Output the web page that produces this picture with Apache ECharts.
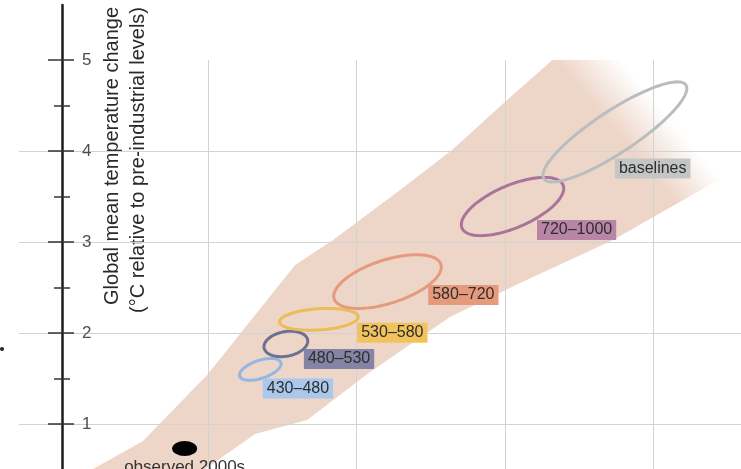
<!DOCTYPE html>
<html>
<head>
<meta charset="utf-8">
<script src="https://cdn.jsdelivr.net/npm/echarts@6/dist/echarts.min.js"></script>
<style>
  html, body { margin: 0; padding: 0; background: #ffffff; }
  #chart { width: 741px; height: 469px; }
</style>
</head>
<body>
<div id="chart"></div>
<script>
// Warming versus cumulative CO2 emissions (GtCO2) for concentration categories (ppm CO2-eq)
const scenarioNames = ['430–480', '480–530', '530–580', '580–720', '720–1000', 'baselines'];
const emissionsLow  = [2420, 2750, 2960, 3690, 5410, 6510];
const emissionsHigh = [2980, 3340, 4020, 5140, 6790, 8450];
const warmingLow    = [1.48, 1.74, 2.03, 2.27, 3.07, 3.66];
const warmingHigh   = [1.72, 2.02, 2.27, 2.86, 3.71, 4.76];
// phase offset of each spread ellipse: smaller values give a thinner, more diagonal ellipse
const spreadPhase   = [1.03, 1.35, 1.35, 1.0, 0.9, 0.52];

const observedPoint = [[1680, 0.73]];
const observedLabel = 'observed 2000s';

// model plume outline: [cumulative emissions, warming]
const plumeUpper = [
  [135, 0.33], [445, 0.505], [1119, 0.813], [1995, 1.549], [3169, 2.747],
  [3681, 3.022], [4584, 3.571], [5285, 4.011], [6027, 4.56], [6607, 4.978],
  [7281, 5.55], [8629, 6.32]
];
const plumeLower = [
  [9977, 4.34], [9438, 3.90], [8804, 3.648], [7456, 3.022], [6202, 2.549],
  [5258, 2.176], [4180, 1.571], [3330, 1.044], [2629, 0.89], [1955, 0.505],
  [1483, 0.275]
];

const yAxisTitle = ['Global mean temperature change', '(°C relative to pre-industrial levels)'];

// styling per category: stroke, label box colour and label offset from ellipse centre (px)
const scenarioStyle = [
  { stroke: '#93b7e0', bg: '#a9c8ec', dx: 2.5,  dy: 9 },
  { stroke: '#6d7092', bg: '#8584a4', dx: 18,   dy: 5 },
  { stroke: '#ebbd58', bg: '#f1c35c', dx: 38.3, dy: 3.5 },
  { stroke: '#e49b7d', bg: '#e69a7c', dx: 40.7, dy: 3.5 },
  { stroke: '#aa7399', bg: '#b985a6', dx: 24.5, dy: 13.5 },
  { stroke: '#babdbe', bg: '#c4c6c6', dx: 0,    dy: 26.5 }
];

const FONT = '"Liberation Sans", Arial, sans-serif';
const gridColor = '#d2d2d2';
const plumeColor = '#edd5c8';

const scenarioRows = scenarioNames.map((_, i) =>
  [emissionsLow[i], emissionsHigh[i], warmingLow[i], warmingHigh[i], spreadPhase[i]]);

function renderPlume(params, api) {
  const outline = plumeUpper.concat(plumeLower).map(p => api.coord(p));
  const fill = new echarts.graphic.LinearGradient(621, 138, 659, 106, [
    { offset: 0, color: plumeColor },
    { offset: 1, color: 'rgba(237,213,200,0)' }
  ], true);
  return { type: 'polygon', shape: { points: outline }, style: { fill: fill } };
}

function renderSpread(params, api) {
  const i = params.dataIndex;
  const x0 = api.value(0), x1 = api.value(1), y0 = api.value(2), y1 = api.value(3), ph = api.value(4);
  const cx = (x0 + x1) / 2, a = (x1 - x0) / 2;
  const cy = (y0 + y1) / 2, b = (y1 - y0) / 2;
  const pts = [];
  const n = 120;
  for (let k = 0; k < n; k++) {
    const t = k / n * Math.PI * 2;
    pts.push(api.coord([cx + a * Math.cos(t), cy + b * Math.cos(t - ph)]));
  }
  const c = api.coord([cx, cy]);
  const st = scenarioStyle[i];
  return {
    type: 'group',
    children: [
      { type: 'polygon', shape: { points: pts },
        style: { fill: 'none', stroke: st.stroke, lineWidth: 3 } },
      { type: 'text', x: c[0] + st.dx, y: c[1] + st.dy, z2: 10,
        style: { text: scenarioNames[i], fill: '#2e2e2e', font: '16px ' + FONT,
                 backgroundColor: st.bg, padding: [2, 4, 2, 4], lineHeight: 16,
                 align: 'left', verticalAlign: 'top' } }
    ]
  };
}

const chart = echarts.init(document.getElementById('chart'), null, { renderer: 'canvas' });

const tickStyle = { color: '#333333', width: 1.5 };

chart.setOption({
  animation: false,
  backgroundColor: '#ffffff',
  grid: [
    { left: 60, right: 0, top: 60, bottom: -46, outerBoundsMode: 'none', containLabel: false },
    { left: 19, right: 0, top: 60, bottom: -46, outerBoundsMode: 'none', containLabel: false },
    { left: 62, right: 0, top: 5,  bottom: -46, outerBoundsMode: 'none', containLabel: false }
  ],
  xAxis: [
    { gridIndex: 0, type: 'value', min: 0, max: 9180, interval: 2000,
      axisLine: { show: false }, axisTick: { show: false }, axisLabel: { show: false },
      splitLine: { show: true, showMinLine: false, showMaxLine: false, lineStyle: { color: gridColor, width: 1 } } },
    { gridIndex: 1, type: 'value', min: 0, max: 1, show: false },
    { gridIndex: 2, type: 'value', min: 0, max: 1, show: false }
  ],
  yAxis: [
    { gridIndex: 0, type: 'value', min: 0, max: 5, interval: 1, show: false },
    { gridIndex: 1, type: 'value', min: 0, max: 5, interval: 1, position: 'left', offset: -43,
      axisLine: { show: false, onZero: false },
      axisTick: { show: true, inside: false, length: 14, lineStyle: tickStyle },
      minorTick: { show: true, splitNumber: 2, length: 8, lineStyle: tickStyle },
      axisLabel: { show: true, inside: true, margin: 20, fontSize: 17, fontFamily: FONT, color: '#4e4e4e' },
      splitLine: { show: true, showMinLine: false, showMaxLine: false, lineStyle: { color: gridColor, width: 1 } } },
    { gridIndex: 1, type: 'value', min: 0, max: 5, interval: 1, position: 'left', offset: -43,
      axisLine: { show: false, onZero: false },
      axisTick: { show: true, inside: true, length: 12, lineStyle: tickStyle },
      minorTick: { show: true, splitNumber: 2, length: 8, lineStyle: tickStyle },
      axisLabel: { show: false }, splitLine: { show: false } },
    { gridIndex: 2, type: 'value', min: 0, max: 1, position: 'left',
      axisLine: { show: true, onZero: false, lineStyle: { color: '#1c1c1c', width: 2.5 } },
      axisTick: { show: false }, axisLabel: { show: false }, splitLine: { show: false } }
  ],
  graphic: [
    { type: 'text', x: 112, y: 7, rotation: Math.PI / 2,
      style: { text: yAxisTitle[0], font: '20px ' + FONT, fill: '#2a2a2a', align: 'right', verticalAlign: 'middle' } },
    { type: 'text', x: 138, y: 7, rotation: Math.PI / 2,
      style: { text: yAxisTitle[1], font: '20px ' + FONT, fill: '#2a2a2a', align: 'right', verticalAlign: 'middle' } },
    { type: 'circle', shape: { cx: 2, cy: 349, r: 2 }, style: { fill: '#222222' } }
  ],
  series: [
    { type: 'custom', name: 'plume', xAxisIndex: 0, yAxisIndex: 0, z: -1, clip: true,
      renderItem: renderPlume, data: [[plumeUpper[0][0], plumeUpper[0][1]]], silent: true },
    { type: 'custom', name: 'categories', xAxisIndex: 0, yAxisIndex: 0, z: 3,
      renderItem: renderSpread, data: scenarioRows,
      encode: { x: [0, 1], y: [2, 3] } },
    { type: 'scatter', name: 'observed', xAxisIndex: 0, yAxisIndex: 0, z: 4,
      data: observedPoint, symbol: 'circle', symbolSize: [25, 15],
      itemStyle: { color: '#000000', opacity: 1 },
      label: { show: true, position: 'bottom', distance: 3, formatter: observedLabel,
               fontSize: 17, fontFamily: FONT, color: '#333333' } }
  ]
});
</script>
</body>
</html>
